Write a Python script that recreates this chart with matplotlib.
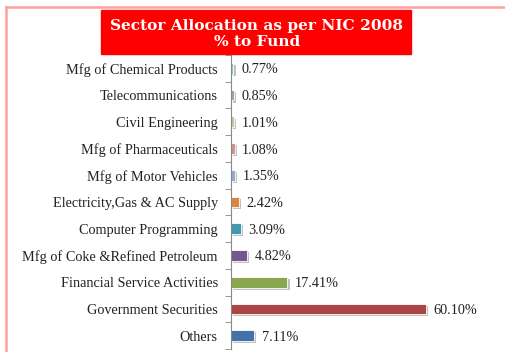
import numpy as np
import matplotlib
matplotlib.use('Agg')
import matplotlib.pyplot as plt
import matplotlib.patheffects as pe
from matplotlib.patches import Rectangle
from matplotlib.lines import Line2D

sectors = ['Mfg of Chemical Products', 'Telecommunications', 'Civil Engineering',
           'Mfg of Pharmaceuticals', 'Mfg of Motor Vehicles', 'Electricity,Gas & AC Supply',
           'Computer Programming', 'Mfg of Coke &Refined Petroleum',
           'Financial Service Activities', 'Government Securities', 'Others']
alloc = [0.77, 0.85, 1.01, 1.08, 1.35, 2.42, 3.09, 4.82, 17.41, 60.10, 7.11]
colors = ['#92C3D5', '#A99BBD', '#B9CD96', '#D09392', '#93A9D0', '#DB843D',
          '#4298AF', '#71588F', '#8AA64F', '#AA4644', '#4472A8']

W, H = 505, 352
fig = plt.figure(figsize=(W / 100, H / 100), dpi=100)
fig.patch.set_facecolor('white')

# pink frame (top and left edges only are in view)
fig.add_artist(Line2D([5.5 / W, 5.5 / W], [0, 1 - 6.5 / H], color='#FFA0A0', lw=1.8,
                      transform=fig.transFigure))
fig.add_artist(Line2D([5.5 / W, 1], [1 - 6.5 / H, 1 - 6.5 / H], color='#FFA0A0', lw=1.8,
                      transform=fig.transFigure))

# red title box
fig.add_artist(Rectangle((101 / W, 1 - 54 / H), 310 / W, 44 / H, color='#FF0000',
                         transform=fig.transFigure, zorder=2))
fig.text(257 / W, 1 - 34 / H, 'Sector Allocation as per NIC 2008\n% to Fund',
         ha='center', va='center', color='white', fontsize=11.1, fontweight='bold',
         family='DejaVu Serif', linespacing=1.2, zorder=3)

ax = fig.add_axes([231 / W, 3 / H, 227 / W, 294 / H])
y = np.arange(len(sectors))
bars = ax.barh(y, alloc, height=0.4, color=colors, edgecolor='white', linewidth=0.6)
for b in bars:
    b.set_path_effects([pe.SimplePatchShadow(offset=(1.5, -1.5), shadow_rgbFace='#999999',
                                             alpha=0.6), pe.Normal()])

for yi, v in zip(y, alloc):
    ax.annotate('%.2f%%' % v, (v, yi), xytext=(5.5, 0), textcoords='offset points',
                va='center_baseline', ha='left', fontsize=10.3, family='Liberation Serif',
                color='#222222')

ax.set_xlim(0, 70)
ax.set_ylim(len(sectors) - 0.5, -0.5)
ax.set_yticks(y)
ax.set_yticklabels(sectors, family='Liberation Serif', fontsize=10.3, color='#222222',
                   va='center_baseline')
ax.set_yticks(np.arange(-0.5, len(sectors), 1), minor=True)
ax.tick_params(axis='y', which='major', length=0, pad=9.5)
ax.tick_params(axis='y', which='minor', length=4, color='#888888')
ax.set_xticks([])
for s in ['top', 'right', 'bottom']:
    ax.spines[s].set_visible(False)
ax.spines['left'].set_color('#888888')
ax.patch.set_alpha(0)

fig.savefig('out.png', dpi=100)
